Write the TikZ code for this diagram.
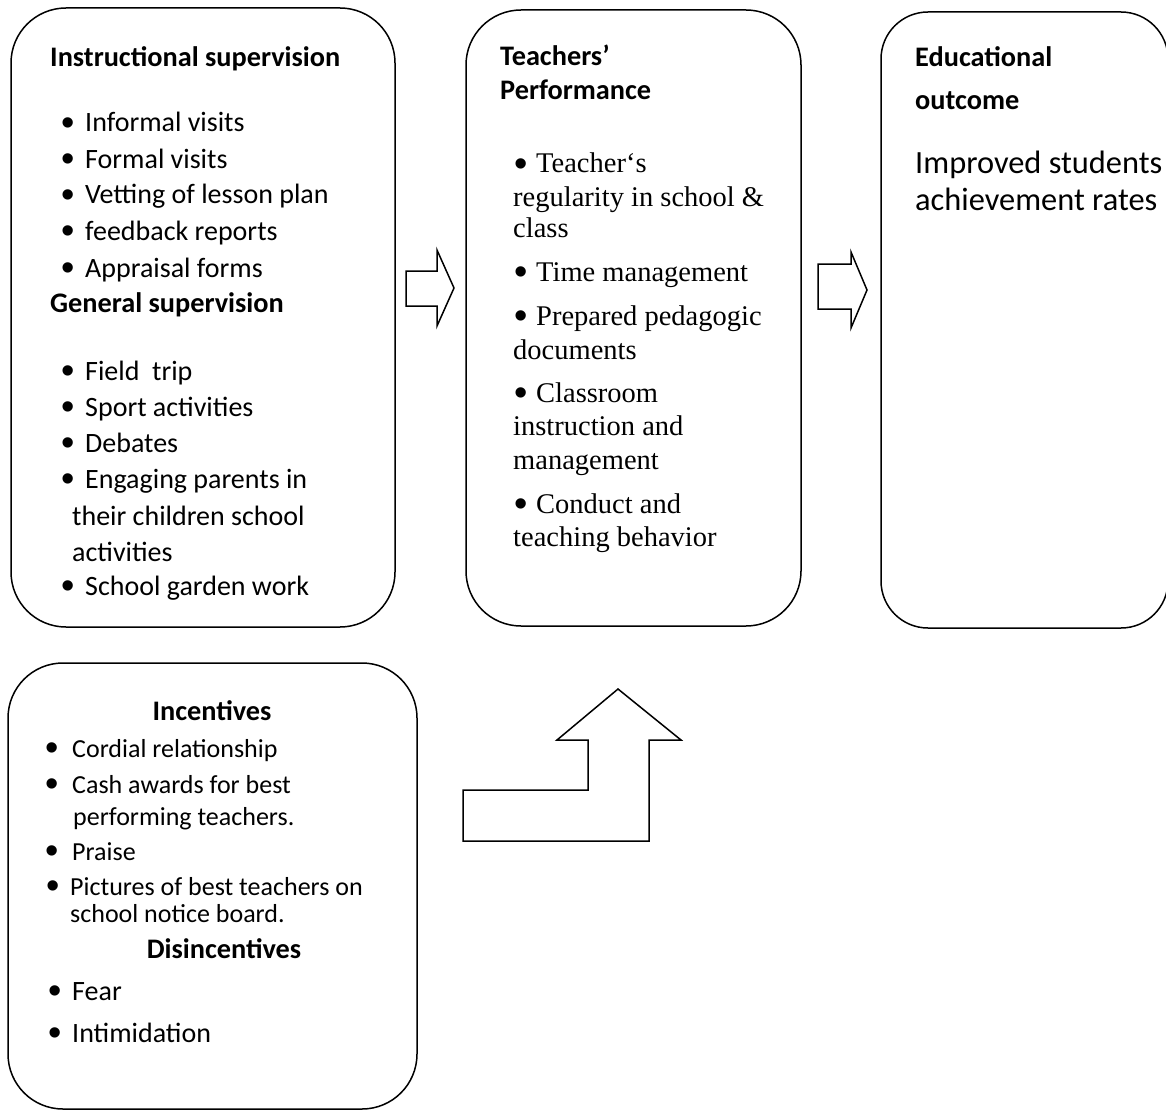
\documentclass[tikz,border=0pt]{standalone}
\usepackage{fontspec}
\setmainfont{Carlito}
\newfontfamily\timesfont{Liberation Serif}
\newfontfamily\bulfont{Liberation Sans}
\usetikzlibrary{positioning}

\newcommand{\itembul}[1]{\makebox[#1][l]{\raisebox{-3.6pt}{\bulfont\fontsize{38}{38}\selectfont •}}}

\begin{document}
\begin{tikzpicture}[
  x=1pt, y=-1pt,
  box/.style={draw, line width=1.5pt, rounded corners=55pt},
  blockarrow/.style={draw, line width=1.5pt, line join=miter},
  headtxt/.style={anchor=base west, inner sep=0pt, font=\bfseries\fontsize{28.3}{34}\selectfont},
  txt/.style={anchor=base west, inner sep=0pt, font=\fontsize{28}{34}\selectfont},
  smalltxt/.style={txt, font=\fontsize{26}{30}\selectfont},
  largetxt/.style={txt, font=\fontsize{32.4}{38}\selectfont},
  serif/.style={txt, font=\timesfont\fontsize{28.5}{32}\selectfont}
]
\useasboundingbox (0,0) rectangle (1166,1110);

% boxes
\draw[box] (11,8) rectangle (395,627);
\draw[box] (466,10) rectangle (801,626);
\draw[box, rounded corners=47pt] (881,12) rectangle (1168,628);
\draw[box] (8,663) rectangle (417,1109);

% block arrows
\draw[blockarrow] (406,271) -- (437,271) -- (437,250) -- (454,288) -- (437,326) -- (437,306) -- (406,306) -- cycle;
\draw[blockarrow] (818,264) -- (851,264) -- (851,252) -- (867,290) -- (851,328) -- (851,309) -- (818,309) -- cycle;
\draw[blockarrow] (463,790) -- (588,790) -- (588,740) -- (557,740) -- (618,689) -- (681,740) -- (649,740) -- (649,841) -- (463,841) -- cycle;

% supervision
\node[headtxt] (ins) at (50,67) {Instructional supervision};
\node[txt] (ins1) at (61,132) {\itembul{24pt}Informal visits};
\node[txt] (ins2) at (61,168) {\itembul{24pt}Formal visits};
\node[txt] (ins3) at (61,204) {\itembul{24pt}Vetting of lesson plan};
\node[txt] (ins4) at (61,240) {\itembul{24pt}feedback reports};
\node[txt] (ins5) at (61,277) {\itembul{24pt}Appraisal forms};
\node[headtxt] (gen) at (50,312) {General supervision};
\node[txt] (gen1) at (61,380) {\itembul{24pt}Field\ \ trip};
\node[txt] (gen2) at (61,416) {\itembul{24pt}Sport activities};
\node[txt] (gen3) at (61,452) {\itembul{24pt}Debates};
\node[txt] (gen4) at (61,488) {\itembul{24pt}Engaging parents in};
\node[txt] (gen4b) at (72,525) {their children school};
\node[txt] (gen4c) at (72,561) {activities};
\begin{scope}
  \clip (11,540) rectangle (395,600);
  \node[txt] (gen5) at (61,595) {\itembul{24pt}School garden work};
\end{scope}

% performance
\node[headtxt] (perf) at (500,66) {Teachers’};
\node[headtxt] (perfb) at (500,100) {Performance};
\node[serif] (p1) at (514,173) {\itembul{22pt}Teacher‘s};
\node[serif] (p1b) at (513,206) {regularity in school \&};
\node[serif] (p1c) at (513,237) {class};
\node[serif] (p2) at (514,281) {\itembul{22pt}Time management};
\node[serif] (p3) at (514,325) {\itembul{22pt}Prepared pedagogic};
\node[serif] (p3b) at (513,359) {documents};
\node[serif] (p4) at (514,402) {\itembul{22pt}Classroom};
\node[serif] (p4b) at (513,435) {instruction and};
\node[serif] (p4c) at (513,469) {management};
\node[serif] (p5) at (514,513) {\itembul{22pt}Conduct and};
\node[serif] (p5b) at (513,546) {teaching behavior};

% outcome
\node[headtxt] (out) at (915,67) {Educational};
\node[headtxt] (outb) at (915,110) {outcome};
\node[largetxt] (out1) at (915,174) {Improved students};
\node[largetxt] (out1b) at (915,210) {achievement rates};

% incentives
\node[headtxt, anchor=base] (inc) at (212,720) {Incentives};
\node[smalltxt] (inc1) at (45,757) {\itembul{27pt}Cordial relationship};
\node[smalltxt] (inc2) at (45,793) {\itembul{27pt}Cash awards for best};
\node[smalltxt] (inc2b) at (73,825) {performing teachers.};
\node[smalltxt] (inc3) at (45,860) {\itembul{27pt}Praise};
\node[smalltxt] (inc4) at (46,895) {\itembul{24pt}Pictures of best teachers on};
\node[smalltxt] (inc4b) at (70,922) {school notice board.};
\node[headtxt, anchor=base] (dis) at (224,958) {Disincentives};
\node[txt] (dis1) at (48,1000) {\itembul{24pt}Fear};
\node[txt] (dis2) at (48,1042) {\itembul{24pt}Intimidation};
\end{tikzpicture}
\end{document}
